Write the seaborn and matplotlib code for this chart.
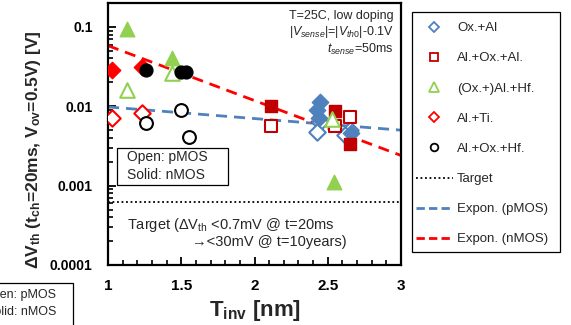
import matplotlib
matplotlib.use("Agg")
import matplotlib.pyplot as plt
import matplotlib.ticker as mticker
from matplotlib.lines import Line2D
from matplotlib.patches import Rectangle
import numpy as np
import pandas as pd
import seaborn as sns

sns.set_theme(style="white")
plt.rcParams['font.family'] = ['Liberation Sans', 'DejaVu Sans']
plt.rcParams['mathtext.fontset'] = 'custom'
plt.rcParams['mathtext.rm'] = 'Liberation Sans'
plt.rcParams['mathtext.it'] = 'Liberation Sans:italic'
plt.rcParams['mathtext.bf'] = 'Liberation Sans:bold'

# ---------------- data ----------------
series_names = ["Ox.+Al", "Al.+Ox.+Al.", "(Ox.+)Al.+Hf.", "Al.+Ti.", "Al.+Ox.+Hf."]

oxal_p_x = [2.45, 2.43, 2.65, 2.62]
oxal_p_y = [0.0063, 0.0047, 0.0050, 0.0043]
oxal_n_x = [2.45, 2.43, 2.44, 2.66]
oxal_n_y = [0.0112, 0.0089, 0.0072, 0.0046]

aloxal_p_x = [2.11, 2.55, 2.65]
aloxal_p_y = [0.0056, 0.0056, 0.0073]
aloxal_n_x = [2.11, 2.55, 2.65]
aloxal_n_y = [0.0100, 0.0087, 0.0033]

alhf_p_x = [1.13, 1.44, 2.53]
alhf_p_y = [0.0158, 0.026, 0.0070]
alhf_n_x = [1.13, 1.44, 2.54]
alhf_n_y = [0.094, 0.040, 0.0011]

alti_p_x = [1.03, 1.23]
alti_p_y = [0.0071, 0.0082]
alti_n_x = [1.03, 1.23]
alti_n_y = [0.029, 0.031]

aloxhf_p_x = [1.26, 1.50, 1.55]
aloxhf_p_y = [0.0061, 0.0091, 0.0041]
aloxhf_n_x = [1.26, 1.50, 1.53]
aloxhf_n_y = [0.029, 0.027, 0.027]

fit_x = [1.0, 3.0]
fit_pmos = [0.0098, 0.0050]
fit_nmos = [0.058, 0.0024]
target_value = 0.00063

colors = {"Ox.+Al": "#4F81BD", "Al.+Ox.+Al.": "#C00000", "(Ox.+)Al.+Hf.": "#92D050",
          "Al.+Ti.": "#FF0000", "Al.+Ox.+Hf.": "#000000"}
markers = {"Ox.+Al": "D", "Al.+Ox.+Al.": "s", "(Ox.+)Al.+Hf.": "^",
           "Al.+Ti.": "D", "Al.+Ox.+Hf.": "o"}
sizes = {"Ox.+Al": 70, "Al.+Ox.+Al.": 85, "(Ox.+)Al.+Hf.": 110,
         "Al.+Ti.": 70, "Al.+Ox.+Hf.": 85}

rows = []
for name, px, py, nx, ny in [
    ("Ox.+Al", oxal_p_x, oxal_p_y, oxal_n_x, oxal_n_y),
    ("Al.+Ox.+Al.", aloxal_p_x, aloxal_p_y, aloxal_n_x, aloxal_n_y),
    ("(Ox.+)Al.+Hf.", alhf_p_x, alhf_p_y, alhf_n_x, alhf_n_y),
    ("Al.+Ti.", alti_p_x, alti_p_y, alti_n_x, alti_n_y),
    ("Al.+Ox.+Hf.", aloxhf_p_x, aloxhf_p_y, aloxhf_n_x, aloxhf_n_y),
]:
    for x, y in zip(px, py):
        rows.append((name, "pMOS", x, y))
    for x, y in zip(nx, ny):
        rows.append((name, "nMOS", x, y))
df = pd.DataFrame(rows, columns=["series", "type", "tinv", "dvth"])

fit_df = pd.DataFrame({"tinv": fit_x + fit_x,
                       "dvth": fit_pmos + fit_nmos,
                       "fit": ["pMOS"] * 2 + ["nMOS"] * 2})

# ---------------- figure ----------------
W, H = 571, 325
fig = plt.figure(figsize=(5.71, 3.25), dpi=100)
ax = fig.add_axes([108 / W, 60 / H, 293 / W, 262 / H])
ax.set_yscale("log")

# fit lines
sns.lineplot(data=fit_df[fit_df.fit == "pMOS"], x="tinv", y="dvth", ax=ax,
             color="#4F81BD", linestyle=(0, (4, 2.5)), linewidth=2, zorder=2)
sns.lineplot(data=fit_df[fit_df.fit == "nMOS"], x="tinv", y="dvth", ax=ax,
             color="#FF0000", linestyle=(0, (4, 2.5)), linewidth=2, zorder=2)
ax.axhline(target_value, color="black", linestyle=(0, (1, 1.5)), linewidth=1.3, zorder=2)

for name in series_names:
    c = colors[name]
    sub = df[df.series == name]
    sns.scatterplot(data=sub[sub.type == "pMOS"], x="tinv", y="dvth", ax=ax,
                    marker=markers[name], s=sizes[name], facecolors="white",
                    edgecolor=c, linewidth=1.5, zorder=3, legend=False)
    sns.scatterplot(data=sub[sub.type == "nMOS"], x="tinv", y="dvth", ax=ax,
                    marker=markers[name], s=sizes[name], color=c,
                    edgecolor=c, linewidth=1.0, zorder=3, legend=False)

ax.set_xlim(1, 3)
ax.set_ylim(0.0001, 0.2)
ax.set_xticks([1, 1.5, 2, 2.5, 3])
ax.set_xticklabels(["1", "1.5", "2", "2.5", "3"])
ax.xaxis.set_minor_locator(mticker.MultipleLocator(0.1))
ax.set_yticks([0.0001, 0.001, 0.01, 0.1])
ax.set_yticklabels(["0.0001", "0.001", "0.01", "0.1"])
ax.yaxis.set_minor_locator(mticker.LogLocator(base=10, subs=np.arange(2, 10)))
ax.yaxis.set_minor_formatter(mticker.NullFormatter())
ax.tick_params(axis="both", which="both", direction="in", top=False, right=False,
               bottom=True, left=True, colors="black")
ax.tick_params(axis="x", which="major", length=6, width=1.3, labelsize=11, pad=10)
ax.tick_params(axis="y", which="major", length=6, width=1.3, labelsize=10, pad=11)
ax.tick_params(axis="both", which="minor", length=3.5, width=1.2)
for lab in ax.get_xticklabels() + ax.get_yticklabels():
    lab.set_fontweight("bold")
for sp in ax.spines.values():
    sp.set_linewidth(1.6)
    sp.set_color("black")
ax.set_xlabel(r"$\mathbf{T_{inv}}$ [nm]", fontsize=16, fontweight="bold", labelpad=4)
ax.set_ylabel(r"$\mathbf{\Delta V_{th}}$ (t$_\mathbf{ch}$=20ms, V$_\mathbf{ov}$=0.5V) [V]",
              fontsize=12.5, fontweight="bold")
ax.yaxis.set_label_coords(-0.222, 0.44)

# annotations
ax.text(0.975, 0.975, "T=25C, low doping\n"
        r"|$\mathit{V_{sense}}$|=|$\mathit{V_{th0}}$|-0.1V" "\n"
        r"$\mathit{t_{sense}}$=50ms",
        transform=ax.transAxes, ha="right", va="top", fontsize=9, linespacing=1.2)
ax.add_patch(Rectangle((9 / 293, 80 / 262), 111 / 293, 37 / 262, transform=ax.transAxes,
                       facecolor="white", edgecolor="black", linewidth=0.9, zorder=4))
ax.text(0.065, 0.378, "Open: pMOS\nSolid: nMOS", transform=ax.transAxes,
        ha="left", va="center", fontsize=10, linespacing=1.3, zorder=5)
ax.text(0.065, 0.153, r"Target ($\Delta$V$_\mathrm{th}$ <0.7mV @ t=20ms", transform=ax.transAxes,
        ha="left", va="center", fontsize=10.5)
ax.text(0.285, 0.088, "→<30mV @ t=10years)", transform=ax.transAxes,
        ha="left", va="center", fontsize=10.5)

# clipped duplicate box at the bottom-left corner
fig.add_artist(Rectangle((-0.2, -0.2), 0.2 + 73 / W, 0.2 + 42 / H,
                         transform=fig.transFigure, facecolor="white",
                         edgecolor="black", linewidth=0.9))
fig.text(56 / W, 1 - 303.5 / H, "Open: pMOS\nSolid: nMOS", ha="right", va="center",
         fontsize=9, linespacing=1.45)

# legend (frame drawn separately)
fig.add_artist(Rectangle((412 / W, 1 - 252 / H), 148 / W, 240 / H, transform=fig.transFigure,
                         facecolor="white", edgecolor="black", linewidth=0.9))
handles = [
    Line2D([], [], linestyle="none", marker="D", markersize=5, markerfacecolor="white",
           markeredgecolor=colors["Ox.+Al"], markeredgewidth=1.3),
    Line2D([], [], linestyle="none", marker="s", markersize=6, markerfacecolor="white",
           markeredgecolor=colors["Al.+Ox.+Al."], markeredgewidth=1.3),
    Line2D([], [], linestyle="none", marker="^", markersize=6.5, markerfacecolor="white",
           markeredgecolor=colors["(Ox.+)Al.+Hf."], markeredgewidth=1.3),
    Line2D([], [], linestyle="none", marker="D", markersize=5, markerfacecolor="white",
           markeredgecolor=colors["Al.+Ti."], markeredgewidth=1.3),
    Line2D([], [], linestyle="none", marker="o", markersize=5.5, markerfacecolor="white",
           markeredgecolor=colors["Al.+Ox.+Hf."], markeredgewidth=1.3),
    Line2D([], [], color="black", linestyle=(0, (1, 1.5)), linewidth=1.3),
    Line2D([], [], color="#4F81BD", linestyle=(0, (3, 1.5)), linewidth=2),
    Line2D([], [], color="#FF0000", linestyle=(0, (3, 1.5)), linewidth=2),
]
labels = series_names + ["Target", "Expon. (pMOS)", "Expon. (nMOS)"]
leg = fig.legend(handles, labels, loc="upper left", bbox_to_anchor=(416 / W, 1 - 22 / H),
                 frameon=False, fontsize=9.5,
                 handlelength=2.8, handletextpad=0.3, labelspacing=1.36, borderpad=0,
                 borderaxespad=0)

fig.savefig("out.png", dpi=100)
